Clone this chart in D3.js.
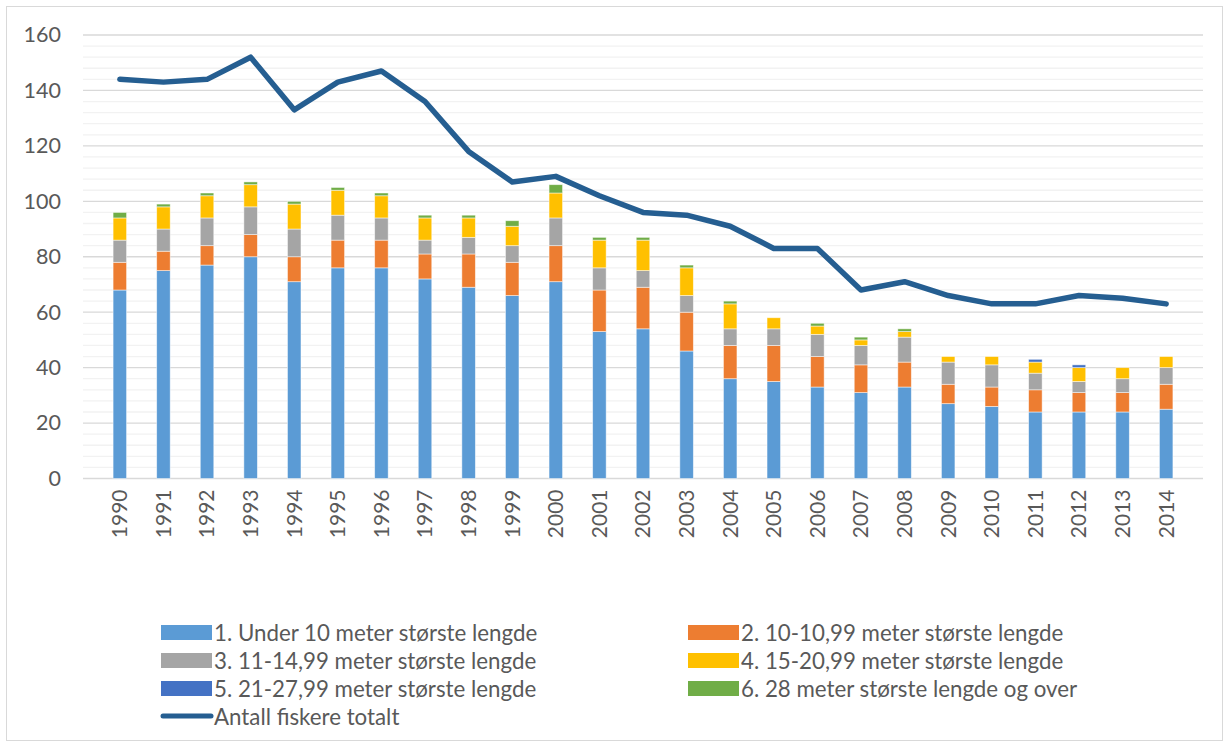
<!DOCTYPE html>
<html>
<head>
<meta charset="utf-8">
<script src="https://cdn.jsdelivr.net/npm/d3@7"></script>
<style>
  body { margin: 0; background: #fff; }
  svg { display: block; }
</style>
</head>
<body>
<script>
const years = ["1990","1991","1992","1993","1994","1995","1996","1997","1998","1999","2000","2001","2002","2003","2004","2005","2006","2007","2008","2009","2010","2011","2012","2013","2014"];

// stacked series
const under10   = [68,75,77,80,71,76,76,72,69,66,71,53,54,46,36,35,33,31,33,27,26,24,24,24,25];
const m10to11   = [10,7,7,8,9,10,10,9,12,12,13,15,15,14,12,13,11,10,9,7,7,8,7,7,9];
const m11to15   = [8,8,10,10,10,9,8,5,6,6,10,8,6,6,6,6,8,7,9,8,8,6,4,5,6];
const m15to21   = [8,8,8,8,9,9,8,8,7,7,9,10,11,10,9,4,3,2,2,2,3,4,5,4,4];
const m21to28   = [0,0,0,0,0,0,0,0,0,0,0,0,0,0,0,0,0,0,0,0,0,1,1,0,0];
const m28plus   = [2,1,1,1,1,1,1,1,1,2,3,1,1,1,1,0,1,1,1,0,0,0,0,0,0];
const totalFishers = [144,143,144,152,133,143,147,136,118,107,109,102,96,95,91,83,83,68,71,66,63,63,66,65,63];

const seriesNames = [
  "1. Under 10 meter største lengde",
  "2. 10-10,99 meter største lengde",
  "3. 11-14,99 meter største lengde",
  "4. 15-20,99 meter største lengde",
  "5. 21-27,99 meter største lengde",
  "6. 28 meter største lengde og over"
];
const lineName = "Antall fiskere totalt";
const colors = ["#5B9BD5","#ED7D31","#A5A5A5","#FFC000","#4472C4","#70AD47"];
const lineColor = "#255E91";

const width = 1229, height = 747;
const font = "Lato, 'Open Sans', sans-serif";
const fontSize = 21.5;

const svg = d3.select("body").append("svg")
  .attr("width", width)
  .attr("height", height);

// chart border
svg.append("rect")
  .attr("x", 6.5).attr("y", 6.5)
  .attr("width", 1216).attr("height", 734)
  .attr("fill", "#fff")
  .attr("stroke", "#D9D9D9");

const x = d3.scaleBand().domain(years).range([83, 1203]).padding(0.69);
const y = d3.scaleLinear().domain([0, 160]).range([478.5, 35]);

// gridlines: minor every 4, major every 20
const grid = svg.append("g");
grid.selectAll("line.minor")
  .data(d3.range(4, 161, 4).filter(v => v % 20 !== 0))
  .join("line")
  .attr("x1", 83).attr("x2", 1203)
  .attr("y1", d => y(d)).attr("y2", d => y(d))
  .attr("stroke", "#F2F2F2").attr("stroke-width", 1.3);
grid.selectAll("line.major")
  .data(d3.range(0, 161, 20))
  .join("line")
  .attr("x1", 83).attr("x2", 1203)
  .attr("y1", d => y(d)).attr("y2", d => y(d))
  .attr("stroke", "#D9D9D9").attr("stroke-width", 1.3);

// y axis labels
const yAxis = svg.append("g")
  .attr("transform", "translate(83,0)")
  .call(d3.axisLeft(y).tickValues(d3.range(0, 161, 20)).tickSize(0).tickPadding(22));
yAxis.select(".domain").remove();
yAxis.selectAll("text")
  .attr("font-family", font).attr("font-size", fontSize).attr("fill", "#595959");

// x axis labels (rotated)
const xAxis = svg.append("g")
  .attr("transform", `translate(0,${y(0)})`)
  .call(d3.axisBottom(x).tickSize(0).tickPadding(0));
xAxis.select(".domain").remove();
xAxis.selectAll("text")
  .attr("font-family", font).attr("font-size", 21).attr("fill", "#595959")
  .attr("transform", "rotate(-90)")
  .attr("text-anchor", "end")
  .attr("x", -11).attr("y", 0).attr("dy", "0.35em");

// stacked bars
const table = years.map((yr, i) => ({
  year: yr,
  s0: under10[i], s1: m10to11[i], s2: m11to15[i], s3: m15to21[i], s4: m21to28[i], s5: m28plus[i]
}));
const stack = d3.stack().keys(["s0","s1","s2","s3","s4","s5"])(table);

svg.append("g")
  .selectAll("g")
  .data(stack)
  .join("g")
  .attr("fill", (d, i) => colors[i])
  .selectAll("rect")
  .data(d => d.filter(p => p[1] - p[0] > 0))
  .join("rect")
  .attr("x", d => x(d.data.year))
  .attr("width", x.bandwidth())
  .attr("y", d => y(d[1]))
  .attr("height", d => y(d[0]) - y(d[1]))
  .attr("stroke", "#fff")
  .attr("stroke-opacity", 0.6)
  .attr("stroke-width", 0.8);

// total line
const line = d3.line()
  .x((d, i) => x(years[i]) + x.bandwidth() / 2)
  .y(d => y(d));
svg.append("path")
  .datum(totalFishers)
  .attr("d", line)
  .attr("fill", "none")
  .attr("stroke", lineColor)
  .attr("stroke-width", 5.5)
  .attr("stroke-linejoin", "round")
  .attr("stroke-linecap", "round");

// legend
const legendItems = seriesNames.map((n, i) => ({ name: n, color: colors[i], type: "rect", col: i % 2, row: Math.floor(i / 2) }));
legendItems.push({ name: lineName, color: lineColor, type: "line", col: 0, row: 3 });

const legend = svg.append("g");
const items = legend.selectAll("g")
  .data(legendItems)
  .join("g")
  .attr("transform", d => `translate(${d.col === 0 ? 161 : 688},${632 + d.row * 28})`);

items.filter(d => d.type === "rect").append("rect")
  .attr("x", 0).attr("y", -7).attr("width", 51).attr("height", 15)
  .attr("fill", d => d.color);
items.filter(d => d.type === "line").append("line")
  .attr("x1", 2).attr("x2", 50).attr("y1", 0).attr("y2", 0)
  .attr("stroke", d => d.color).attr("stroke-width", 5)
  .attr("stroke-linecap", "round");
items.append("text")
  .attr("x", 53).attr("y", 1).attr("dy", "0.35em")
  .attr("font-family", font).attr("font-size", 22.3).attr("fill", "#595959")
  .text(d => d.name);
</script>
</body>
</html>
